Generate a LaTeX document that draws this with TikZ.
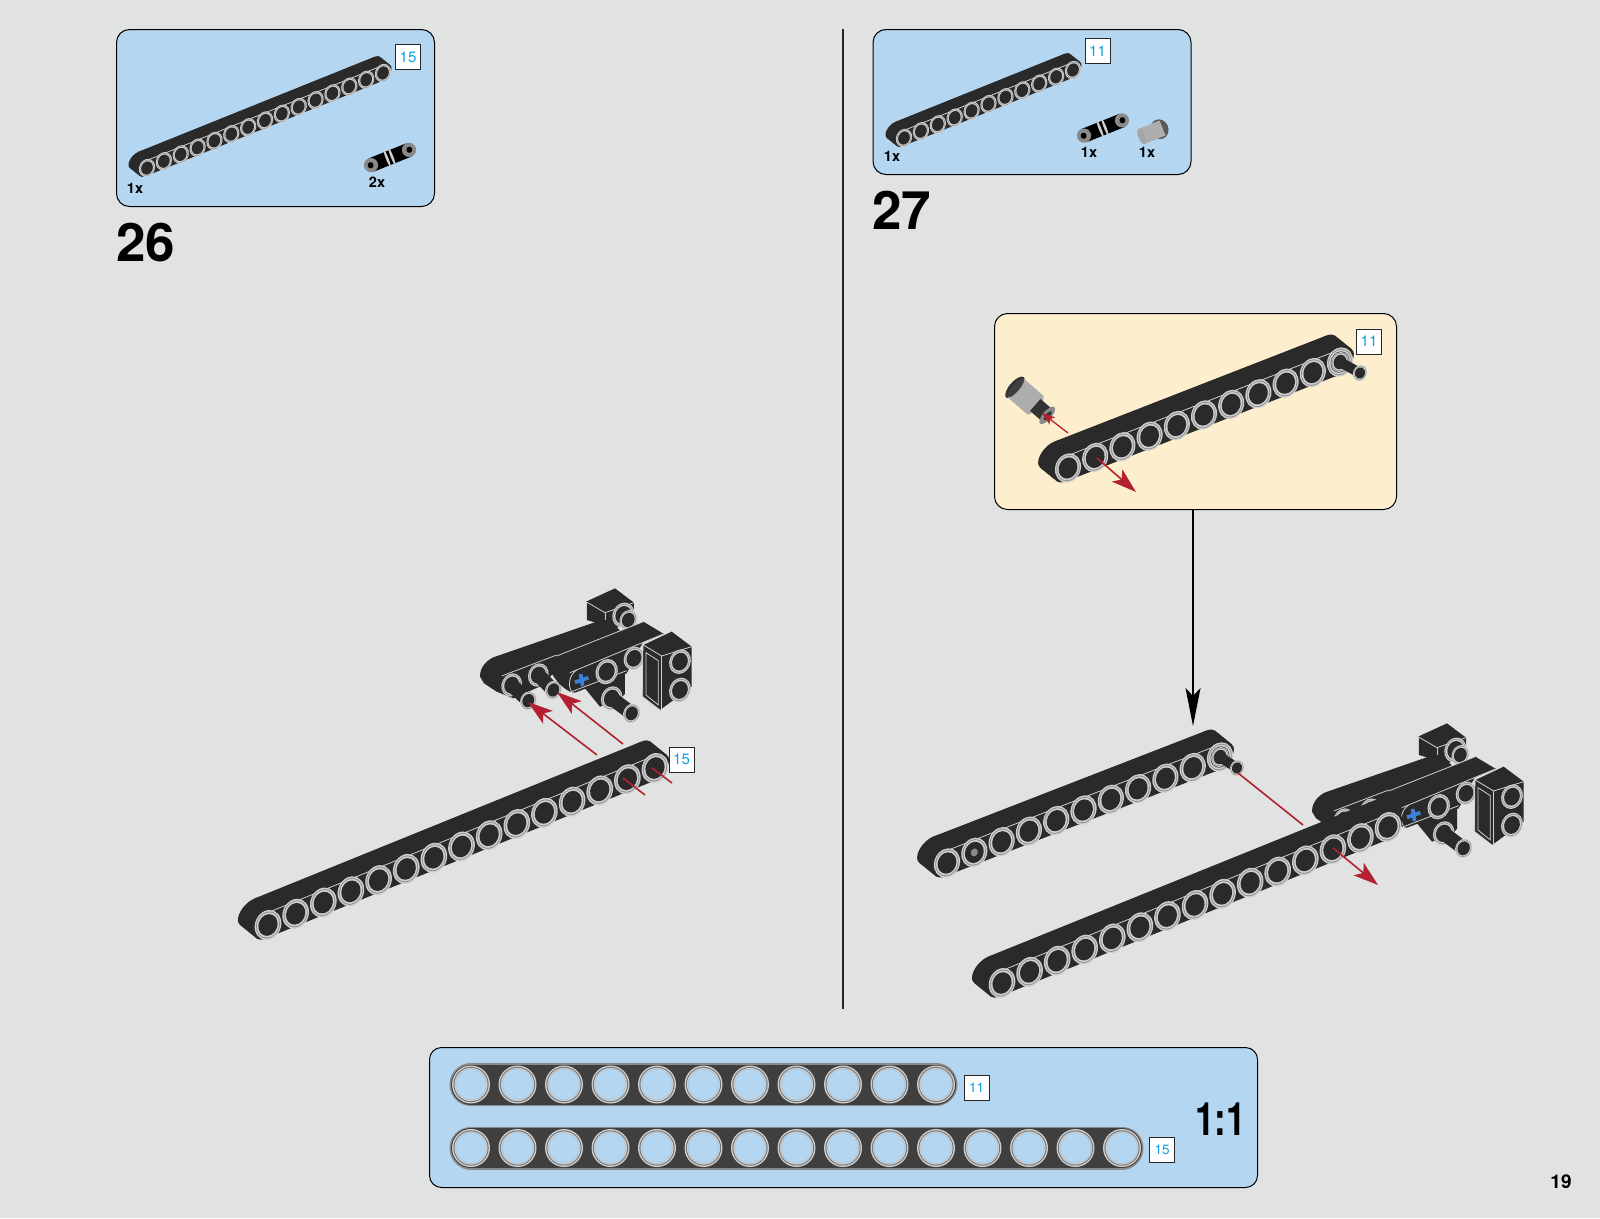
\documentclass[tikz,border=0pt]{standalone}
\usepackage{fontspec}
\setmainfont{TeX Gyre Heros}
\usetikzlibrary{arrows.meta}
\definecolor{pagebg}{HTML}{E1E3E2}
\definecolor{panelblue}{HTML}{B4D6F1}
\definecolor{cream}{HTML}{FDEECD}
\definecolor{tagblue}{HTML}{109FE0}
\definecolor{bodydark}{HTML}{2A2A2A}
\definecolor{rimlight}{HTML}{CFCFCF}
\definecolor{rimmid}{HTML}{8A8A8A}
\definecolor{redarrow}{HTML}{B3202F}
\definecolor{crossblue}{HTML}{3C7FD6}
\tikzset{
  panelbox/.style={draw=black,line width=1pt,rounded corners=13pt,inner sep=0pt,anchor=north west},
  tagbox/.style={draw=black!85,line width=1pt,fill=white,inner sep=0pt,minimum width=25pt,minimum height=25pt,text=tagblue,font=\fontsize{15}{15}\selectfont},
  qty/.style={font=\bfseries\fontsize{14.5}{14.5}\selectfont,anchor=base,inner sep=0pt},
  stepnum/.style={font=\bfseries\fontsize{53}{53}\selectfont,anchor=base west,inner sep=0pt},
  redline/.style={draw=redarrow,line width=1.6pt},
  bighead/.style={redline,-{Stealth[length=25pt,width=16pt,inset=6pt]}},
  smallhead/.style={redline,line width=1.3pt,-{Stealth[length=13pt,width=9pt,inset=3pt]}},
  lightline/.style={draw=rimlight,line width=.8pt},
}
\def\ku{1}
% ring seen in the slant of the beam faces
\newcommand\slring[3]{%
  \begin{scope}[shift={(#1,#2)},x={({\ku*.78pt},{-\ku*.36pt})},y={({\ku*.42pt},{\ku*.93pt})}]
    \fill[rimlight] (0,0) circle (#3);
    \fill[rimmid] (0,0) circle ({.9*(#3)});
    \fill[rimlight] (0,0) circle ({.84*(#3)});
    \fill[bodydark] (0,0) circle ({.72*(#3)});
  \end{scope}}
% A(x,y) B(x,y) n  vx vy  ex ey
\newcommand\beam[9]{%
  \pgfmathsetmacro\beamux{(#3-#1)/(#5-1)}%
  \pgfmathsetmacro\beamuy{(#4-#2)/(#5-1)}%
  \pgfmathsetmacro\beamr{15*sqrt(\beamux*\beamux+\beamuy*\beamuy)/29.7}%
  \pgfmathtruncatemacro\beamnn{#5-1}%
  \foreach \tt in {0,.1,...,1.01}{%
    \begin{scope}[shift={(#1+\tt*#8,#2+\tt*#9)},x={({\beamux*1pt},{-1*(\beamuy)*1pt})},y={({(#6)*1pt},{-1*(#7)*1pt})}]
      \fill[bodydark] (0,-.5) -- (\beamnn,-.5) -- (\beamnn,.5) -- (0,.5) -- cycle;
      \fill[bodydark] (0,0) circle (.5);
      \fill[bodydark] (\beamnn,0) circle (.5);
    \end{scope}}%
  \begin{scope}[shift={(#1,#2)},x={({\beamux*1pt},{-1*(\beamuy)*1pt})},y={({(#6)*1pt},{-1*(#7)*1pt})}]
    \draw[lightline] (0,-.5) -- (\beamnn,-.5);
    \foreach \ii in {0,...,\beamnn}{%
      \slring{\ii}{0}{\beamr}
    }
  \end{scope}}
% pin sticking out: x1 y1 x2 y2 r linewidth
\newcommand\stud[6]{%
  \slring{#1}{#2}{#5*1.25}
  \draw[bodydark,line width=#6pt] (#1,#2) -- (#3,#4);
  \slring{#3}{#4}{#5}}
% small loose connector pin
\newcommand\minipin[2]{%
  \begin{scope}[shift={(#1,#2)},x={(20pt,8pt)},y={(8pt,-20pt)}]
    \fill[black] (-.95,-.33) -- (.95,-.33) -- (.95,.33) -- (-.95,.33) -- cycle;
    \fill[rimmid] (-.95,0) circle (.33);
    \fill[rimmid] (.95,0) circle (.33);
    \fill[black] (-.97,0) circle (.14);
    \fill[black] (.97,0) circle (.14);
    \fill[rimlight] (-.14,0) ellipse [x radius=.06,y radius=.42];
    \fill[rimlight] (.1,0) ellipse [x radius=.06,y radius=.42];
  \end{scope}}
% the assembly from step 26, in coordinates of 1/3 pixel
\newcommand\assembly[2]{%
  \begin{scope}[shift={(#1,#2)},x=.3333pt,y=-.3333pt]
    \def\ku{.3333}
    % back cube
    \fill[bodydark] (378,95) -- (465,55) -- (522,98) -- (522,135) -- (470,175) -- (380,150) -- cycle;
    \draw[lightline] (378,95) -- (435,128) -- (522,98);
    \draw[lightline] (378,95) -- (378,150);
    \draw[lightline] (435,128) -- (435,150);
    \stud{490}{135}{505}{150}{30}{10}
    % back beam
    \fill[bodydark] (60,320) .. controls (60,290) and (80,272) .. (100,262) -- (430,148) -- (480,180) -- (300,285) -- (250,345) -- (160,385) -- (110,365) -- (72,340) -- cycle;
    \draw[lightline] (125,318) -- (290,255);
    \stud{155}{345}{205}{392}{28}{14}
    \stud{235}{315}{280}{360}{28}{14}
    % lower part with pin
    \fill[bodydark] (375,355) -- (495,310) -- (495,372) -- (470,395) -- (420,410) -- cycle;
    \stud{455}{385}{515}{430}{29}{14}
    % middle beam
    \fill[bodydark] (275,310) .. controls (275,285) and (290,262) .. (310,250) -- (550,155) -- (612,192) -- (548,218) -- (500,310) -- (345,368) .. controls (325,368) and (295,345) .. (275,310) -- cycle;
    \draw[lightline] (290,258) -- (550,155);
    \draw[lightline] (330,308) -- (610,192);
    \draw[lightline] (335,365) -- (500,302);
    \draw[lightline] (335,365) .. controls (322,345) and (328,315) .. (350,300);
    \slring{440}{305}{38}
    \slring{522}{265}{35}
    \draw[crossblue,line width=3.8pt] (345,337) -- (385,323);
    \draw[crossblue,line width=3.8pt] (362,312) -- (368,348);
    % right block
    \fill[bodydark] (550,225) -- (635,185) -- (695,230) -- (695,350) -- (600,420) -- (548,380) -- cycle;
    \draw[lightline] (550,225) -- (605,258) -- (695,230);
    \draw[lightline] (605,258) -- (605,420);
    \draw[lightline] (548,225) -- (548,380) -- (600,420);
    \draw[lightline] (558,248) -- (595,272) -- (595,405) -- (558,375) -- cycle;
    \slring{660}{275}{37}
    \slring{660}{360}{37}
  \end{scope}}
\begin{document}
\begin{tikzpicture}[x=1pt,y=-1pt]
\useasboundingbox (0,0) rectangle (1600,1218);
\fill[pagebg] (0,0) rectangle (1600,1218);
% divider
\draw[black!85,line width=2pt] (843,29) -- (843,1009);
% ---- parts panel 26
\node[panelbox,fill=panelblue,minimum width=318pt,minimum height=177pt] (panelA) at (116,29) {};
\beam{147}{168}{383}{73}{15}{-3}{16.5}{-10}{-8}
\minipin{390}{157.5}
\node[tagbox] (tagA) at (408,57) {15};
\node[qty] (qtyA) at (135,193) {1x};
\node[qty] (qtyB) at (377,187) {2x};
\node[stepnum] (stepA) at (116,261) {26};
% ---- parts panel 27
\node[panelbox,fill=panelblue,minimum width=318pt,minimum height=145pt] (panelB) at (872.5,29) {};
\beam{904}{138}{1073}{70}{11}{-3}{16.5}{-10}{-8}
\minipin{1103}{128}
\begin{scope}[shift={(1155,131)},x={(15pt,6pt)},y={(6pt,-15pt)}]
  \fill[black!65] (.3,0) ellipse [x radius=.55,y radius=.62];
  \fill[rimmid!70!white] (-.9,-.5) -- (.5,-.5) -- (.5,.5) -- (-.9,.5) -- cycle;
  \fill[rimlight!80!black] (-.9,0) ellipse [x radius=.2,y radius=.5];
\end{scope}
\node[tagbox] (tagB) at (1097.5,51) {11};
\node[qty] (qtyC) at (892,161) {1x};
\node[qty] (qtyD) at (1089,157) {1x};
\node[qty] (qtyE) at (1147,157) {1x};
\node[stepnum] (stepB) at (872,229) {27};
% ---- step 26 model
\assembly{460}{570}
\coordinate (a1s) at (597,755); \coordinate (a1t) at (528,702);
\coordinate (a2s) at (623,744); \coordinate (a2t) at (557,692);
\draw[bighead] (a1s) -- (a1t);
\draw[bighead] (a2s) -- (a2t);
\beam{268}{925}{655}{768}{15}{-5}{27}{-16}{-13}
\coordinate (a3s) at (623,778); \coordinate (a3e) at (645,795);
\coordinate (a4s) at (652,768); \coordinate (a4e) at (672,783);
\draw[redline] (a3s) -- (a3e);
\draw[redline] (a4s) -- (a4e);
\node[tagbox] (tagC) at (681.5,759.5) {15};
% ---- callout
\node[panelbox,fill=cream,minimum width=402pt,minimum height=196pt] (callout) at (994,313) {};
\coordinate (c1s) at (1068,433); \coordinate (c1t) at (1042,413);
\coordinate (c2s) at (1097,458); \coordinate (c2t) at (1136,492);
\begin{scope}[shift={(1033,403)},x={(15pt,-13pt)},y={(-13pt,-15pt)}]
  \fill[black!80] (-1.2,0) ellipse [x radius=.28,y radius=.68];
  \fill[rimmid!70!white] (-1.15,-.62) -- (.15,-.62) -- (.15,.62) -- (-1.15,.62) -- cycle;
  \fill[black!75] (-1.15,0) ellipse [x radius=.18,y radius=.6];
  \fill[rimmid!70!white] (.15,0) ellipse [x radius=.18,y radius=.62];
  \fill[black!80] (.15,-.4) -- (.95,-.4) -- (.95,.4) -- (.15,.4) -- cycle;
  \fill[rimmid] (.95,0) ellipse [x radius=.22,y radius=.55];
  \fill[black!80] (.98,0) ellipse [x radius=.1,y radius=.3];
\end{scope}
\draw[smallhead] (c1s) -- (c1t);
\beam{1068}{468}{1340}{362}{11}{-5}{27}{-16}{-13}
\stud{1340}{362}{1360}{373}{8}{10}
\draw[bighead] (c2s) -- (c2t);
\node[tagbox] (tagD) at (1369,341.5) {11};
% black connector
\coordinate (blacktip) at (1193,726);
\draw[black,line width=1.6pt,-{Stealth[length=38pt,width=15pt,inset=8pt]}] (blacktip |- callout.south) -- (blacktip);
% ---- step 27 model
\assembly{1292}{705}
\beam{947}{863}{1220}{757}{11}{-5}{27}{-16}{-13}
\stud{1220}{757}{1237}{768}{8}{10}
\begin{scope}[shift={(974.3,852.4)},x={(.78pt,-.36pt)},y={(.42pt,.93pt)}]
  \fill[bodydark] (0,0) circle (9);
  \fill[rimmid] (0,0) circle (4);
\end{scope}
\coordinate (d1s) at (1238,773); \coordinate (d1e) at (1303,825);
\draw[redline] (d1s) -- (d1e);
\beam{1002}{983}{1388}{827}{15}{-5}{27}{-16}{-13}
\coordinate (d2s) at (1333,848); \coordinate (d2t) at (1378,885);
\draw[bighead] (d2s) -- (d2t);
% ---- 1:1 panel
\node[panelbox,fill=panelblue,minimum width=828pt,minimum height=140pt,rounded corners=12pt] (scale) at (429,1047) {};
\foreach \yy/\xend in {1084.5/936,1148/1122}{
  \draw[line cap=round,rimmid,line width=43pt] (471,\yy) -- (\xend,\yy);
  \draw[line cap=round,bodydark!90!white,line width=40pt] (471,\yy) -- (\xend,\yy);
  \foreach \xx in {0,...,14}{
    \pgfmathsetmacro\hx{471+46.5*\xx}
    \pgfmathparse{\hx<\xend+1 ? 1 : 0}
    \ifnum\pgfmathresult=1
      \fill[rimlight] (\hx,\yy) circle (19);
      \fill[black!55] (\hx,\yy) circle (17.6);
      \fill[rimlight] (\hx,\yy) circle (16.6);
      \fill[panelblue!80!gray] (\hx,\yy) circle (15.6);
      \fill[panelblue] (\hx,\yy) circle (14.8);
    \fi
  }
}
\node[tagbox,font=\fontsize{13.5}{13.5}\selectfont] (tagE) at (976.5,1087.5) {11};
\node[tagbox,font=\fontsize{13.5}{13.5}\selectfont] (tagF) at (1162,1149.5) {15};
\node[font=\bfseries\fontsize{46}{46}\selectfont,anchor=base east,inner sep=0pt,xscale=.76] (ratio) at (1246,1135) {1:1};
\node[font=\bfseries\fontsize{19}{19}\selectfont,anchor=base,inner sep=0pt] (pagenum) at (1561,1188) {19};
\end{tikzpicture}
\end{document}
